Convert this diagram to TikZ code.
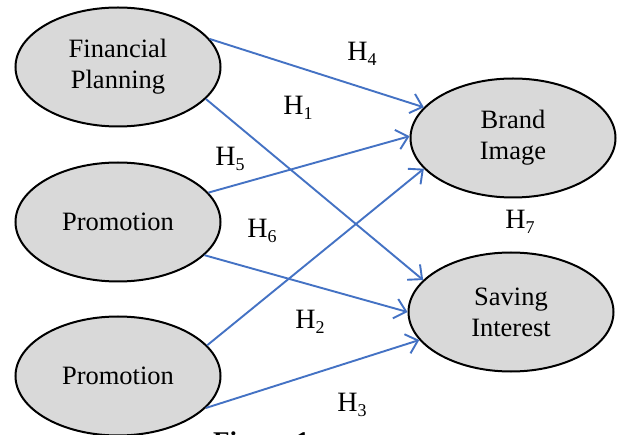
\documentclass[tikz,border=0pt]{standalone}
\usepackage{fontspec}
\setmainfont{Liberation Serif}
\usetikzlibrary{shapes.geometric,arrows.meta}
\definecolor{arrblue}{HTML}{4472C4}
\definecolor{ellgray}{HTML}{D9D9D9}
\newcommand{\hyp}[1]{H{\fontsize{18}{18}\selectfont\raisebox{-5pt}{#1}}}
\tikzset{
  ell/.style={ellipse, draw=black, line width=2pt, fill=ellgray, minimum width=205pt, minimum height=119pt, inner sep=0pt, align=center, font=\fontsize{26.5}{31}\selectfont},
  arr/.style={arrblue, line width=1.9pt, -{Straight Barb[length=11pt,width=20pt,line width=1.9pt]}},
  hlab/.style={font=\fontsize{28}{28}\selectfont, inner sep=0pt}
}
\begin{document}
\begin{tikzpicture}[x=1pt,y=-1pt]
\fill[white] (0,0) rectangle (618,435);
\clip (0,0) rectangle (618,435);
\node[ell] (fp) at (118,67) {Financial\\Planning};
\node[ell] (pa) at (118,222) {Promotion};
\node[ell] (pb) at (118,376) {Promotion};
\node[ell] (bi) at (513,138) {Brand\\Image};
\node[ell] (si) at (511,312) {Saving\\Interest};
\draw[arr] (fp.17) -- (bi.161);
\draw[arr] (fp.-20) -- (si.160);
\draw[arr] (pa.18) -- (bi.179);
\draw[arr] (pa.-21) -- (si.180);
\draw[arr] (pb.19) -- (bi.199);
\draw[arr] (pb.-20) -- (si.197);
\node[hlab] (h4) at (362,54) {\hyp{4}};
\node[hlab] (h1) at (298,108) {\hyp{1}};
\node[hlab] (h5) at (230,159) {\hyp{5}};
\node[hlab] (h6) at (262,231) {\hyp{6}};
\node[hlab] (h7) at (520,222) {\hyp{7}};
\node[hlab] (h2) at (310,322) {\hyp{2}};
\node[hlab] (h3) at (352,405) {\hyp{3}};
\node[font=\bfseries\fontsize{27}{27}\selectfont, anchor=base west, inner sep=0pt] (fig) at (213,450) {Figure 1};
\end{tikzpicture}
\end{document}
